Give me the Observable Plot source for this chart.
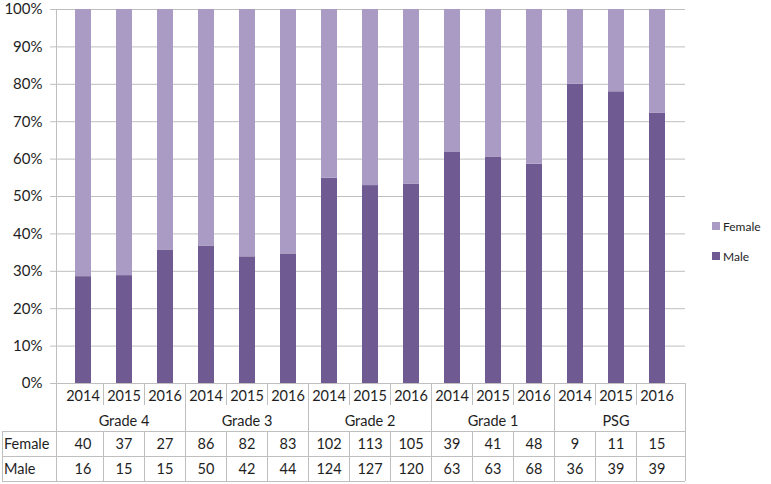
<!DOCTYPE html>
<html>
<head>
<meta charset="utf-8">
<script src="https://cdn.jsdelivr.net/npm/d3@7"></script>
<script src="https://cdn.jsdelivr.net/npm/@observablehq/plot@0.6"></script>
<style>
  html, body { margin: 0; padding: 0; background: #fff; }
  #chart { width: 771px; height: 484px; }
</style>
</head>
<body>
<div id="chart"></div>
<script>
const groups = ["Grade 4", "Grade 3", "Grade 2", "Grade 1", "PSG"];
const years = ["2014", "2015", "2016"];
const series = ["Female", "Male"];
const female = [40, 37, 27, 86, 82, 83, 102, 113, 105, 39, 41, 48, 9, 11, 15];
const male   = [16, 15, 15, 50, 42, 44, 124, 127, 120, 63, 63, 68, 36, 39, 39];
const yTicks = [0, 0.1, 0.2, 0.3, 0.4, 0.5, 0.6, 0.7, 0.8, 0.9, 1];

const maleColor = "#6f5a91";
const femaleColor = "#a99bc3";
const gridColor = "#bfbfbf";
const textColor = "#1e1e1e";
const font = "Lato, 'Open Sans', sans-serif";

const cols = [];
groups.forEach(g => years.forEach(y => cols.push({group: g, year: y, key: g + " " + y})));
const rows = [];
cols.forEach((c, i) => {
  rows.push({key: c.key, sex: "Male", count: male[i]});
  rows.push({key: c.key, sex: "Female", count: female[i]});
});

const plot = Plot.plot({
  width: 771,
  height: 484,
  marginLeft: 56,
  marginRight: 86,
  marginTop: 9,
  marginBottom: 101,
  style: {fontFamily: font, fontSize: "15px", color: textColor, background: "#fff"},
  x: {domain: cols.map(c => c.key), paddingInner: 0.6, paddingOuter: 0.3, axis: null, label: null},
  y: {domain: [0, 1], axis: null, label: null},
  color: {domain: series, range: [femaleColor, maleColor]},
  marks: [
    Plot.gridY(yTicks, {stroke: gridColor, strokeOpacity: 1}),
    Plot.barY(rows, Plot.stackY({x: "key", y: "count", fill: "sex", offset: "normalize", order: ["Male", "Female"]})),
    Plot.axisY(yTicks, {tickFormat: d3.format(".0%"), tickSize: 6, tickPadding: 8, stroke: gridColor, fill: textColor, fontSize: 15, label: null})
  ]
});

document.getElementById("chart").appendChild(plot);

// Data table below the plot, positioned with the plot's own scales
const svg = d3.select(plot);
const x = plot.scale("x");
const y = plot.scale("y");
const step = (x.range[1] - x.range[0]) / cols.length;
const colLeft = k => x.apply(k) + x.bandwidth / 2 - step / 2;
const colMid = k => x.apply(k) + x.bandwidth / 2;
const left = x.range[0], right = x.range[1];
const y0 = y.apply(0), yTop = y.apply(1);
const rGrade = y0 + 48, rFemale = y0 + 73, rMale = y0 + 98;
const tableLeft = 2;

const g = svg.append("g").attr("stroke", gridColor).attr("stroke-width", 1).attr("fill", "none");
const hline = (x1, x2, yy) => g.append("line").attr("x1", x1).attr("x2", x2).attr("y1", yy + 0.5).attr("y2", yy + 0.5);
const vline = (xx, y1, y2) => g.append("line").attr("x1", xx + 0.5).attr("x2", xx + 0.5).attr("y1", y1).attr("y2", y2);

vline(Math.round(left), yTop, rMale);
hline(left, right, y0);
hline(tableLeft, right, rGrade);
hline(tableLeft, right, rFemale);
hline(tableLeft, right, rMale);
vline(tableLeft, rGrade, rMale);
vline(Math.round(right), y0, rMale);
cols.forEach((c, i) => {
  const xx = Math.round(colLeft(c.key));
  if (i === 0) return;
  if (i % 3 === 0) vline(xx, y0, rMale);
  else { vline(xx, y0, y0 + 22); vline(xx, rGrade, rMale); }
});

const t = svg.append("g").attr("fill", textColor).attr("font-family", font).attr("font-size", 14.5)
  .attr("text-anchor", "middle").attr("dominant-baseline", "central");
cols.forEach((c, i) => {
  const cx = colMid(c.key);
  t.append("text").attr("x", cx).attr("y", y0 + 12).text(c.year);
  t.append("text").attr("x", cx).attr("y", rGrade + 12).text(female[i]);
  t.append("text").attr("x", cx).attr("y", rFemale + 12).text(male[i]);
});
groups.forEach((gr, gi) => {
  const k = cols[gi * 3 + 1].key;
  t.append("text").attr("x", colMid(k)).attr("y", y0 + 37).text(gr);
});
t.append("text").attr("x", 4).attr("y", rGrade + 12).attr("text-anchor", "start").text(series[0]);
t.append("text").attr("x", 4).attr("y", rFemale + 12).attr("text-anchor", "start").text(series[1]);

// legend
const lg = svg.append("g").attr("font-family", font).attr("font-size", 12).attr("fill", textColor).attr("text-anchor", "start");
const legendItems = [{label: "Female", color: femaleColor, cy: 226}, {label: "Male", color: maleColor, cy: 256}];
legendItems.forEach(d => {
  lg.append("rect").attr("x", 712).attr("y", d.cy - 4).attr("width", 8).attr("height", 8).attr("fill", d.color);
  lg.append("text").attr("x", 723).attr("y", d.cy).attr("text-anchor", "start").attr("dominant-baseline", "central").text(d.label);
});
</script>
</body>
</html>
